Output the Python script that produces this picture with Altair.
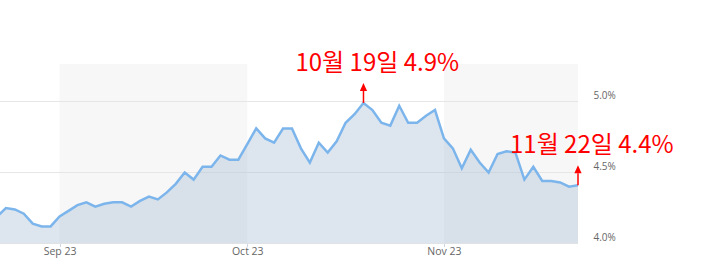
import altair as alt
import pandas as pd

# ---- data (US yield, trading days, evenly spaced) ----
yields = [4.19, 4.25, 4.24, 4.21, 4.14, 4.12, 4.12, 4.19, 4.23, 4.27,
          4.29, 4.26, 4.28, 4.29, 4.29, 4.26, 4.30, 4.33, 4.31, 4.36,
          4.42, 4.50, 4.45, 4.54, 4.54, 4.62, 4.59, 4.59, 4.70, 4.81,
          4.74, 4.71, 4.81, 4.81, 4.67, 4.57, 4.71, 4.64, 4.72, 4.85,
          4.91, 4.99, 4.94, 4.85, 4.83, 4.97, 4.85, 4.85, 4.90, 4.94,
          4.74, 4.67, 4.53, 4.66, 4.57, 4.50, 4.63, 4.65, 4.64, 4.45,
          4.54, 4.44, 4.44, 4.43, 4.40, 4.41]

tick_pos = [7, 28, 50]
tick_labels = ["Sep 23", "Oct 23", "Nov 23"]

band_start = [7, 50]
band_end = [28, 65]

y_ticks = [4.0, 4.5, 5.0]

ann_idx = [41, 65]
ann_text = ["10월 19일 4.9%", "11월 22일 4.4%"]

# ---- tables ----
df = pd.DataFrame({"idx": list(range(len(yields))), "value": yields})
bands = pd.DataFrame({"start": band_start, "end": band_end})
grid = pd.DataFrame({"v": y_ticks})
ann = pd.DataFrame({"idx": ann_idx,
                    "value": [yields[i] for i in ann_idx],
                    "text": ann_text})

W, H = 578, 179.5
xs = alt.Scale(domain=[0.336, 65], nice=False, zero=False)
ys = alt.Scale(domain=[4.0, 5.264], nice=False, zero=False)

x_label_expr = " : ".join(
    [f"datum.value == {p} ? '{l}'" for p, l in zip(tick_pos, tick_labels)]
) + " : ''"

xaxis = alt.Axis(values=tick_pos, labelExpr=x_label_expr, grid=False,
                 domain=False, ticks=True, tickSize=3, tickColor="#ccd6eb",
                 labelPadding=0, labelFont="Open Sans", labelFontSize=10.5,
                 labelColor="#666666", labelAngle=0, labelFlush=False,
                 labelOverlap=False, title="")
yaxis = alt.Axis(orient="right", values=y_ticks,
                 labelExpr="format(datum.value, '.1f') + '%'",
                 ticks=False, domain=False, grid=False, labelPadding=15,
                 labelAlign="left", labelBaseline="middle", labelOffset=-6,
                 labelFont="Open Sans", labelFontSize=10, labelColor="#666666",
                 labelFlush=False, labelOverlap=False, title="")

band_layer = alt.Chart(bands).mark_rect(color="#f7f7f7").encode(
    x=alt.X("start:Q", scale=xs, axis=xaxis),
    x2="end:Q",
    y=alt.value(0),
    y2=alt.value(H),
)

grid_layer = alt.Chart(grid).mark_rule(color="#e6e6e6", strokeWidth=1).encode(
    y=alt.Y("v:Q", scale=ys, axis=yaxis),
)

area_layer = alt.Chart(df).mark_area(
    fill="#aac0d7", fillOpacity=0.4, clip=True
).encode(
    x=alt.X("idx:Q", scale=xs, axis=xaxis),
    y=alt.Y("value:Q", scale=ys, axis=yaxis),
    y2=alt.datum(4.0),
)

line_layer = alt.Chart(df).mark_line(
    color="#7cb5ec", strokeWidth=2.5, clip=True
).encode(
    x=alt.X("idx:Q", scale=xs, axis=xaxis),
    y=alt.Y("value:Q", scale=ys, axis=yaxis),
)

arrow_line = alt.Chart(ann).mark_rule(
    color="#ff0000", strokeWidth=1.5, y2Offset=-12
).encode(
    x=alt.X("idx:Q", scale=xs, axis=xaxis),
    y=alt.Y("value:Q", scale=ys, axis=yaxis),
    y2="value:Q",
)

arrow_head = alt.Chart(ann).mark_point(
    shape="M0,-1L0.9,1L-0.9,1Z", filled=True, color="#ff0000",
    size=64, yOffset=-16, opacity=1, strokeWidth=0
).encode(
    x=alt.X("idx:Q", scale=xs, axis=xaxis),
    y=alt.Y("value:Q", scale=ys, axis=yaxis),
)

ann_text_layer = alt.Chart(ann).mark_text(
    align="left", baseline="alphabetic", dx=-68, dy=-32,
    font="Noto Sans CJK KR", fontSize=24, color="#ff0000"
).encode(
    x=alt.X("idx:Q", scale=xs, axis=xaxis),
    y=alt.Y("value:Q", scale=ys, axis=yaxis),
    text="text:N",
)

chart = alt.layer(
    band_layer, grid_layer, area_layer, line_layer,
    arrow_line, arrow_head, ann_text_layer
).properties(
    width=W, height=H,
    autosize=alt.AutoSizeParams(type="none"),
    padding={"left": 0, "top": 64, "right": 136, "bottom": 23.5},
    background="white",
).configure_view(strokeWidth=0)

chart.save("out.html", embed_options={"renderer": "svg", "actions": False})
